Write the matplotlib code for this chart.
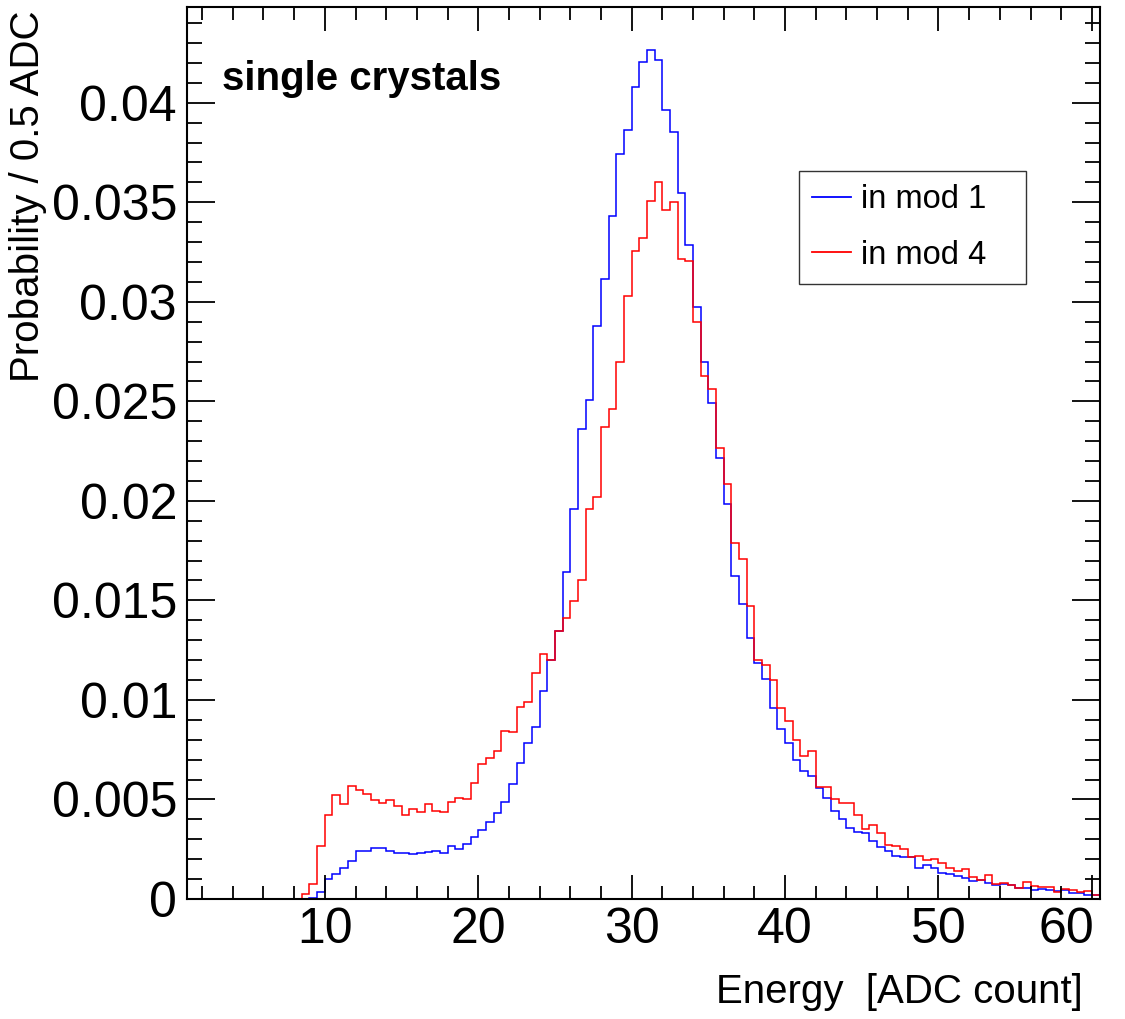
import numpy as np
import matplotlib
matplotlib.use("Agg")
import matplotlib.pyplot as plt
import matplotlib.transforms as mtransforms
from matplotlib.ticker import MultipleLocator, FixedLocator

plt.rcParams['font.family'] = ['Liberation Sans', 'DejaVu Sans']

# histogram binning: 0.5 ADC bins starting at 8.5
bin_lo = 8.5
bin_width = 0.5

# probability per 0.5 ADC bin, module 1 (blue)
mod1 = [0.0, 0.00003, 0.00037, 0.00100, 0.00127, 0.00154, 0.00193, 0.00241,
        0.00241, 0.00258, 0.00255, 0.00243, 0.00233, 0.00233, 0.00225, 0.00230,
        0.00235, 0.00241, 0.00233, 0.00268, 0.00251, 0.00278, 0.00310, 0.00347,
        0.00387, 0.00434, 0.00489, 0.00576, 0.00685, 0.00782, 0.00863, 0.01045,
        0.01201, 0.01348, 0.01642, 0.01960, 0.02360, 0.02508, 0.02879, 0.03117,
        0.03429, 0.03744, 0.03861, 0.04079, 0.04206, 0.04265, 0.04215, 0.03966,
        0.03851, 0.03548, 0.03283, 0.02974, 0.02699, 0.02493, 0.02215, 0.01985,
        0.01623, 0.01484, 0.01313, 0.01186, 0.01107, 0.00958, 0.00852, 0.00785,
        0.00698, 0.00644, 0.00619, 0.00556, 0.00509, 0.00442, 0.00400, 0.00355,
        0.00335, 0.00330, 0.00293, 0.00263, 0.00243, 0.00216, 0.00210, 0.00213,
        0.00154, 0.00172, 0.00157, 0.00128, 0.00123, 0.00117, 0.00106, 0.00088,
        0.00094, 0.00079, 0.00069, 0.00075, 0.00070, 0.00057, 0.00055, 0.00045,
        0.00052, 0.00045, 0.00042, 0.00047, 0.00032, 0.00029, 0.00022, 0.00022]

# probability per 0.5 ADC bin, module 4 (red)
mod4 = [0.00024, 0.00075, 0.00268, 0.00424, 0.00524, 0.00476, 0.00568, 0.00549,
        0.00528, 0.00497, 0.00482, 0.00499, 0.00469, 0.00421, 0.00452, 0.00437,
        0.00477, 0.00442, 0.00436, 0.00487, 0.00506, 0.00503, 0.00585, 0.00677,
        0.00710, 0.00745, 0.00844, 0.00838, 0.00966, 0.00992, 0.01136, 0.01233,
        0.01201, 0.01348, 0.01411, 0.01499, 0.01600, 0.01960, 0.02020, 0.02370,
        0.02461, 0.02697, 0.03027, 0.03255, 0.03322, 0.03506, 0.03601, 0.03461,
        0.03499, 0.03213, 0.03203, 0.02901, 0.02625, 0.02562, 0.02265, 0.02085,
        0.01790, 0.01707, 0.01474, 0.01201, 0.01174, 0.01100, 0.00960, 0.00896,
        0.00800, 0.00719, 0.00745, 0.00561, 0.00561, 0.00504, 0.00481, 0.00481,
        0.00422, 0.00350, 0.00372, 0.00330, 0.00273, 0.00266, 0.00253, 0.00211,
        0.00218, 0.00196, 0.00200, 0.00183, 0.00157, 0.00138, 0.00153, 0.00112,
        0.00096, 0.00122, 0.00077, 0.00082, 0.00072, 0.00057, 0.00085, 0.00065,
        0.00059, 0.00062, 0.00037, 0.00052, 0.00044, 0.00035, 0.00039, 0.00022]

labels = ["in mod 1", "in mod 4"]
colors = ["#0000ff", "#ff0000"]

x_ticks = [10, 20, 30, 40, 50, 60]
y_ticks = [0, 0.005, 0.01, 0.015, 0.02, 0.025, 0.03, 0.035, 0.04]
y_tick_labels = ["0", "0.005", "0.01", "0.015", "0.02", "0.025", "0.03", "0.035", "0.04"]

edges = bin_lo + bin_width * np.arange(len(mod1) + 1)

fig = plt.figure(figsize=(11.25, 10.19), dpi=100)
ax = fig.add_axes([0.1660, 0.1178, 0.8114, 0.8751])

for vals, lab, col in zip([mod1, mod4], labels, colors):
    ax.stairs(vals, edges, baseline=0, color=col, lw=1.1, label=lab)

ax.set_xlim(1.0, 60.5)
ax.set_ylim(0, 0.0448)

ax.xaxis.set_major_locator(FixedLocator(x_ticks))
ax.xaxis.set_minor_locator(MultipleLocator(2))
ax.yaxis.set_major_locator(FixedLocator(y_ticks))
ax.yaxis.set_minor_locator(MultipleLocator(0.001))
ax.set_yticklabels(y_tick_labels)

ax.tick_params(which='both', direction='in', top=True, right=True,
               width=1.3, labelsize=36, color='black')
ax.tick_params(axis='x', which='major', length=17.5, pad=6)
ax.tick_params(axis='x', which='minor', length=9.2)
ax.tick_params(axis='y', which='major', length=20.5, pad=7)
ax.tick_params(axis='y', which='minor', length=10.8)
for sp in ax.spines.values():
    sp.set_linewidth(1.5)

# last x label pulled inside the frame, like the original
last = ax.get_xticklabels()[-1]
last.set_transform(last.get_transform() +
                   mtransforms.ScaledTranslation(-0.26, 0, fig.dpi_scale_trans))

fig.text(28 / 1125, 1 - 10 / 1019, "Probability / 0.5 ADC", rotation=90,
         ha='center', va='top', fontsize=29)
fig.text(1083 / 1125, 1 - 1003 / 1019, "Energy  [ADC count]",
         ha='right', va='baseline', fontsize=29)

ax.text(0.0387, 0.9073, "single crystals", transform=ax.transAxes,
        fontsize=29, fontweight='bold', va='baseline', ha='left')

leg = ax.legend(loc='upper left', bbox_to_anchor=(0.6708, 0.694, 0.2487, 0.1224),
                mode='expand', fontsize=23.5, frameon=True, fancybox=False,
                handlelength=1.2, handletextpad=0.3, borderaxespad=0,
                borderpad=0.4, labelspacing=0.76)
leg.get_frame().set_edgecolor('black')
leg.get_frame().set_linewidth(1.0)
for h in leg.get_lines():
    h.set_linewidth(1.3)

fig.savefig("out.png", dpi=100)
